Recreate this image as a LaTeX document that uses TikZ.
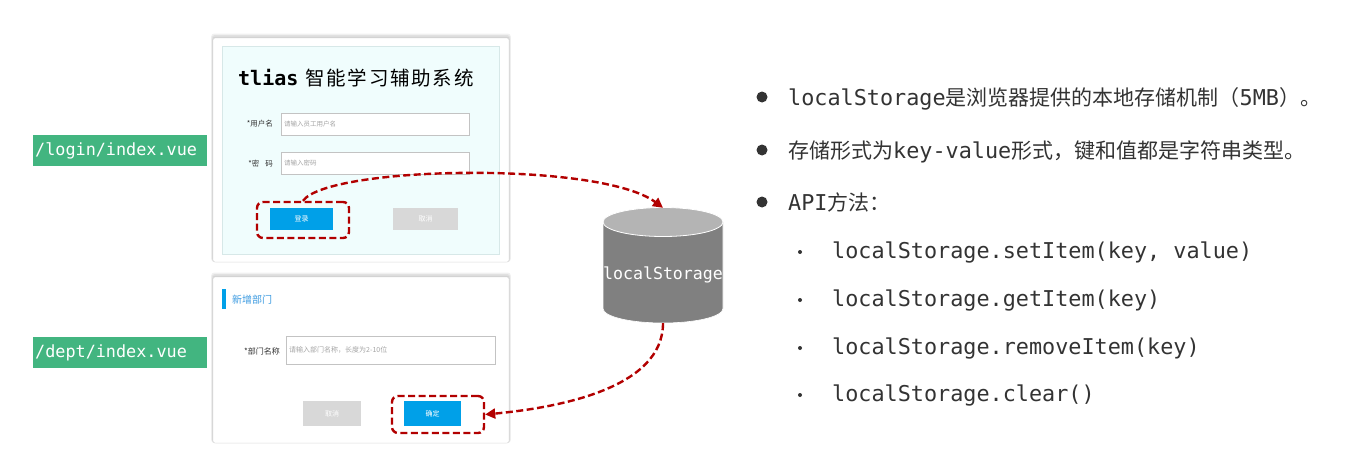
\documentclass[tikz,border=0pt]{standalone}
\usepackage{fontspec}
\usetikzlibrary{arrows.meta}
\newfontfamily\cjk{Noto Sans CJK SC}
\newfontfamily\cjkt[LetterSpace=9]{Noto Sans CJK SC}
\newfontfamily\mono{DejaVu Sans Mono}
\newcommand\fsz[1]{\fontsize{#1}{#1}\selectfont}
\definecolor{vuegreen}{RGB}{66,181,128}
\definecolor{darkred}{RGB}{178,0,0}
\definecolor{txt}{RGB}{51,51,51}
\definecolor{btnblue}{RGB}{0,160,232}
\definecolor{btngray}{RGB}{216,216,216}
\definecolor{fieldgray}{RGB}{195,195,195}
\definecolor{phgray}{RGB}{165,165,165}
\definecolor{panel}{RGB}{240,253,253}
\definecolor{cardline}{RGB}{215,215,215}
\definecolor{titleblue}{RGB}{60,155,225}
\definecolor{cylbody}{RGB}{128,128,128}
\definecolor{cyltop}{RGB}{180,180,180}
\begin{document}
\begin{tikzpicture}[x=1pt,y=-1pt,
  card/.style={draw=cardline, fill=white, rounded corners=2pt, inner sep=0pt},
  field/.style={draw=fieldgray, fill=white, inner sep=0pt},
  bluebtn/.style={fill=btnblue, text=white, inner sep=0pt, font=\cjk\fsz{7}},
  graybtn/.style={fill=btngray, text=white, inner sep=0pt, font=\cjk\fsz{7}},
  phtext/.style={anchor=west, text=phgray, inner sep=0pt, font=\cjk\fsz{6.5}},
  lbltext/.style={anchor=east, text=txt, inner sep=0pt, font=\cjk\fsz{7.5}},
  redbox/.style={draw=darkred, line width=2.4pt, dash pattern=on 7pt off 3.5pt, rounded corners=6pt, inner sep=0pt},
  redarrow/.style={draw=darkred, line width=2.4pt, dash pattern=on 7pt off 3.5pt, -{Triangle[length=10pt,width=10pt]}},
  pathlabel/.style={anchor=west, fill=vuegreen, text=white, font=\mono\fsz{16.8}, minimum width=174pt, minimum height=31pt, text width=170pt, align=left, inner sep=2pt},
  maintext/.style={anchor=base west, text=txt, inner sep=0pt},
  bigdot/.style={circle, fill=txt, inner sep=0pt, minimum size=11pt},
  smalldot/.style={circle, fill=txt, inner sep=0pt, minimum size=4pt}
]
\useasboundingbox[fill=white] (0,0) rectangle (1348,466);

% path labels
\node[pathlabel] (plogin) at (33,150.5) {/login/index.vue};
\node[pathlabel] (pdept) at (33,352.5) {/dept/index.vue};

% shadows
\foreach \d in {0,1.5,3,4.5}{
  \fill[black, opacity=0.06, rounded corners=3pt] (213-\d*0.4,38-\d) rectangle (509+\d*0.4,262);
  \fill[black, opacity=0.06, rounded corners=3pt] (213-\d*0.4,277-\d) rectangle (509+\d*0.4,443);
}

% login card
\node[card, minimum width=296pt, minimum height=224pt] (logincard) at (361,150) {};
\node[draw={rgb,255:red,215;green,232;blue,232}, fill=panel, inner sep=0pt, minimum width=277pt, minimum height=208pt] (panel) at (360.5,150) {};
\node[anchor=base west, inner sep=0pt, text=black] (title) at (238,85)
  {{\mono\bfseries\fsz{20}tlias}\hspace{7pt}{\cjkt\fsz{19.5}智能学习辅助系统}};
\node[lbltext] (lbuser) at (273,124) {*用户名};
\node[field, minimum width=188pt, minimum height=22pt] (fuser) at (375,124) {};
\node[phtext] (phuser) at (284,124) {请输入员工用户名};
\node[lbltext] (lbpwd) at (273,164) {*密\hspace{6pt}码};
\node[field, minimum width=188pt, minimum height=22pt] (fpwd) at (375,163) {};
\node[phtext] (phpwd) at (284,163) {请输入密码};
\node[bluebtn, minimum width=63pt, minimum height=22pt] (btnlogin) at (301.5,219) {登录};
\node[graybtn, minimum width=65pt, minimum height=22pt] (btncancel1) at (425.5,219) {取消};
\node[redbox, minimum width=92pt, minimum height=36pt] (lb) at (303,220) {};

% dept card
\node[card, minimum width=296pt, minimum height=166pt] (deptcard) at (361,360) {};
\fill[btnblue] (222,289) rectangle (226,309);
\node[anchor=west, inner sep=0pt, text=titleblue, font=\cjk\fsz{10}] (depttitle) at (232,300) {新增部门};
\node[lbltext, font=\cjk\fsz{8}] (lbdept) at (280,351) {*部门名称};
\node[field, minimum width=209pt, minimum height=28pt] (fdept) at (390.5,350) {};
\node[phtext, font=\cjk\fsz{7}] (phdept) at (289,350) {请输入部门名称，长度为2-10位};
\node[graybtn, minimum width=58pt, minimum height=25pt] (btncancel2) at (332,413.5) {取消};
\node[bluebtn, minimum width=57pt, minimum height=25pt] (btnok) at (432.5,413.5) {确定};
\node[redbox, minimum width=92pt, minimum height=37pt] (cb) at (438,414.5) {};

% cylinder
\fill[cylbody, draw=white, line width=0.6pt] (603,222) -- (603,308.5)
  arc[start angle=180, end angle=360, x radius=60pt, y radius=14.5pt] -- (723,222) -- cycle;
\fill[cyltop, draw=white, line width=0.8pt] (663,222) ellipse [x radius=60pt, y radius=14.5pt];
\node[inner sep=0pt, minimum width=120pt, minimum height=115pt, text=white, font=\mono\fsz{16.6}] (ls) at (663,265.5) {};
\node[inner sep=0pt, text=white, font=\mono\fsz{16.6}] (lstext) at (663,275) {localStorage};

% connectors
\draw[redarrow] (lb.north) .. controls +(25,-35) and +(-63,-47) .. (ls.north);
\draw[redarrow] (ls.south) .. controls +(0,65) and +(74,-7) .. (cb.east);

% right text
\node[bigdot] (b1) at (762,97) {};
\node[maintext] (t1) at (788,105) {{\mono\fsz{21.8}localStorage}{\cjk\fsz{21}是浏览器提供的本地存储机制（}{\mono\fsz{21.8}5MB}{\cjk\fsz{21}）。}};
\node[bigdot] (b2) at (762,150) {};
\node[maintext] (t2) at (788,158) {{\cjk\fsz{21}存储形式为}{\mono\fsz{21.8}key-value}{\cjk\fsz{21}形式，键和值都是字符串类型。}};
\node[bigdot] (b3) at (762,202) {};
\node[maintext] (t3) at (788,210) {{\mono\fsz{21.8}API}{\cjk\fsz{21}方法：}};

\node[smalldot] (s1) at (800,252) {};
\node[maintext, font=\mono\fsz{21.8}] (u1) at (832,258) {localStorage.setItem(key, value)};
\node[smalldot] (s2) at (800,300) {};
\node[maintext, font=\mono\fsz{21.8}] (u2) at (832,306) {localStorage.getItem(key)};
\node[smalldot] (s3) at (800,348) {};
\node[maintext, font=\mono\fsz{21.8}] (u3) at (832,354) {localStorage.removeItem(key)};
\node[smalldot] (s4) at (800,395) {};
\node[maintext, font=\mono\fsz{21.8}] (u4) at (832,401) {localStorage.clear()};
\end{tikzpicture}
\end{document}
